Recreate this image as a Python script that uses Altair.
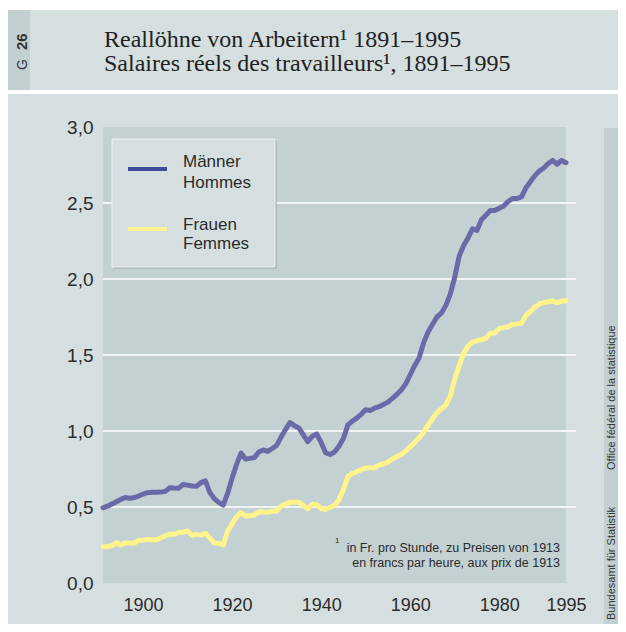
import altair as alt
import pandas as pd

years = list(range(1891, 1996))
men = [0.495, 0.505, 0.52, 0.535, 0.55, 0.563, 0.558, 0.562, 0.572, 0.585,
       0.594, 0.597, 0.597, 0.598, 0.603, 0.627, 0.625, 0.624, 0.648, 0.644,
       0.638, 0.637, 0.66, 0.672, 0.595, 0.555, 0.53, 0.513, 0.59, 0.69,
       0.78, 0.855, 0.815, 0.82, 0.825, 0.862, 0.875, 0.866, 0.885, 0.905,
       0.96, 1.01, 1.055, 1.035, 1.02, 0.975, 0.93, 0.965, 0.98, 0.925,
       0.857, 0.845, 0.862, 0.9, 0.95, 1.04, 1.065, 1.085, 1.11, 1.14,
       1.135, 1.15, 1.16, 1.175, 1.19, 1.215, 1.24, 1.27, 1.31, 1.37,
       1.43, 1.48, 1.58, 1.65, 1.70, 1.75, 1.775, 1.825, 1.90, 2.01,
       2.15, 2.22, 2.27, 2.33, 2.32, 2.39, 2.42, 2.45, 2.45, 2.465,
       2.48, 2.51, 2.53, 2.53, 2.54, 2.60, 2.64, 2.68, 2.71, 2.73,
       2.76, 2.78, 2.755, 2.78, 2.765]
women = [0.238, 0.24, 0.245, 0.265, 0.25, 0.263, 0.263, 0.262, 0.28, 0.283,
         0.287, 0.285, 0.283, 0.298, 0.31, 0.322, 0.32, 0.332, 0.336, 0.342,
         0.314, 0.32, 0.315, 0.327, 0.295, 0.263, 0.261, 0.25, 0.34, 0.39,
         0.436, 0.463, 0.44, 0.443, 0.447, 0.469, 0.467, 0.465, 0.47, 0.474,
         0.505, 0.52, 0.531, 0.532, 0.531, 0.51, 0.488, 0.518, 0.515, 0.49,
         0.485, 0.497, 0.51, 0.547, 0.615, 0.70, 0.72, 0.732, 0.745, 0.757,
         0.759, 0.759, 0.776, 0.783, 0.795, 0.815, 0.83, 0.845, 0.87, 0.895,
         0.925, 0.955, 0.99, 1.04, 1.08, 1.12, 1.145, 1.17, 1.23, 1.34,
         1.43, 1.51, 1.56, 1.585, 1.595, 1.60, 1.61, 1.643, 1.645, 1.675,
         1.68, 1.686, 1.70, 1.705, 1.708, 1.76, 1.785, 1.815, 1.836, 1.845,
         1.85, 1.855, 1.844, 1.855, 1.857]
series_names = ["Männer", "Frauen"]
series_colors = ["#6b6aa8", "#fff48c"]
legend_colors = ["#3d4b98", "#fff48f"]
x_ticks = [1900, 1920, 1940, 1960, 1980, 1995]
y_ticks = [0.0, 0.5, 1.0, 1.5, 2.0, 2.5, 3.0]
grid_vals = [0.5, 1.0, 1.5, 2.0, 2.5]

title_de = "Reallöhne von Arbeitern¹ 1891–1995"
title_fr = "Salaires réels des travailleurs¹, 1891–1995"
foot_1 = "in Fr. pro Stunde, zu Preisen von 1913"
foot_2 = "en francs par heure, aux prix de 1913"

W, H = 463, 456
SANS = "Liberation Sans Narrow, Liberation Sans, Arial, sans-serif"
SERIF = "Liberation Serif, Times New Roman, serif"
BG = "#d5dfe0"
PLOT = "#c3d1d2"
INK = "#2b2b2b"

df = pd.DataFrame({
    "year": years * 2,
    "value": men + women,
    "series": [series_names[0]] * len(years) + [series_names[1]] * len(years),
})
one = pd.DataFrame({"a": [0]})

xscale = alt.Scale(domain=[1891, 1995], nice=False, zero=False)
yscale = alt.Scale(domain=[0, 3], nice=False)


def box(x, x2, y, y2, color, **kw):
    return alt.Chart(one).mark_rect(color=color, **kw).encode(
        x=alt.value(x), x2=alt.value(x2), y=alt.value(y), y2=alt.value(y2))


def txt(text, x, y, size, font=SANS, **kw):
    return alt.Chart(one).mark_text(text=text, font=font, fontSize=size, **kw).encode(
        x=alt.value(x), y=alt.value(y))


# page furniture
top_white = box(-100, 530, -125, -117, "#ffffff")
gap_white = box(-100, 530, -37, -33, "#ffffff")
left_strip = box(-100, -73, -117, -37, "#c3d0d1")
right_strip = box(501, 530, 1, 510, "#c3d0d1")
plot_bg = box(0, W, 0, H, PLOT)

grid = alt.Chart(pd.DataFrame({"g": grid_vals})).mark_rule(
    color="#ffffff", strokeWidth=1.6).encode(
    x=alt.value(0), x2=alt.value(473),
    y=alt.Y("g:Q", scale=yscale))

lines = alt.Chart(df).mark_line(strokeWidth=5, strokeJoin="round", strokeCap="round").encode(
    x=alt.X("year:Q", scale=xscale,
            axis=alt.Axis(values=x_ticks, format="d", title=None, domain=False,
                          ticks=False, grid=False, labelPadding=13,
                          labelFont=SANS, labelFontSize=18, labelColor=INK,
                          labelOverlap=False, labelFlush=False)),
    y=alt.Y("value:Q", scale=yscale,
            axis=alt.Axis(values=y_ticks, title=None, domain=False, ticks=False,
                          grid=False, labelPadding=10, labelFont=SANS,
                          labelFontSize=19, labelColor=INK,
                          labelExpr="replace(format(datum.value, '.1f'), '.', ',')")),
    color=alt.Color("series:N", scale=alt.Scale(domain=series_names, range=series_colors),
                    legend=None),
    order=alt.Order("year:Q"),
)

# legend box
leg_shadow = box(10.5, 173.5, 13.5, 141.5, "#9ea8a9")
leg_box = box(9, 172, 12, 140, BG, stroke="#eef3f3", strokeWidth=1)
leg_line_m = alt.Chart(one).mark_rule(color=legend_colors[0], strokeWidth=4).encode(
    x=alt.value(25), x2=alt.value(64), y=alt.value(42))
leg_line_w = alt.Chart(one).mark_rule(color=legend_colors[1], strokeWidth=4).encode(
    x=alt.value(25), x2=alt.value(64), y=alt.value(102))
leg_texts = [
    txt("Männer", 80, 40, 17, align="left", baseline="alphabetic", color=INK),
    txt("Hommes", 80, 61, 17, align="left", baseline="alphabetic", color=INK),
    txt("Frauen", 80, 103, 17, align="left", baseline="alphabetic", color=INK),
    txt("Femmes", 80, 122, 17, align="left", baseline="alphabetic", color=INK),
]

# titles
titles = [
    txt(title_de, 1, -80, 24, font=SERIF, align="left", baseline="alphabetic", color="#222222"),
    txt(title_fr, 1, -56, 24, font=SERIF, align="left", baseline="alphabetic", color="#222222"),
    txt("G", -76, -57, 14, font="Liberation Sans, sans-serif", angle=270, align="left",
        baseline="alphabetic", color="#333333"),
    txt("26", -76, -77, 15, font="Liberation Sans, sans-serif", angle=270, align="left",
        baseline="alphabetic", color="#333333", fontWeight="bold"),
]

# footnote
foot = [
    txt("1", 232, 416, 8, align="left", baseline="alphabetic", color=INK),
    txt(foot_1, 457, 425, 12.5, align="right", baseline="alphabetic", color=INK),
    txt(foot_2, 457, 440, 12.5, align="right", baseline="alphabetic", color=INK),
]

# side credit
side = [
    txt("Office fédéral de la statistique", 503, 343, 11, align="left", baseline="top",
        angle=270, color="#333333"),
    txt("Bundesamt für Statistik", 503, 493, 11, align="left", baseline="top",
        angle=270, color="#333333"),
]

chart = alt.layer(
    top_white, gap_white, left_strip, right_strip, plot_bg, grid, lines,
    leg_shadow, leg_box, leg_line_m, leg_line_w, *leg_texts, *titles, *foot, *side,
).properties(
    width=W, height=H,
    autosize=alt.AutoSizeParams(type="none"),
    padding={"left": 95, "top": 119, "right": 52, "bottom": 41},
    background=BG,
).configure_view(stroke="transparent")

chart.save("out.html", embed_options={"renderer": "svg", "actions": False})
